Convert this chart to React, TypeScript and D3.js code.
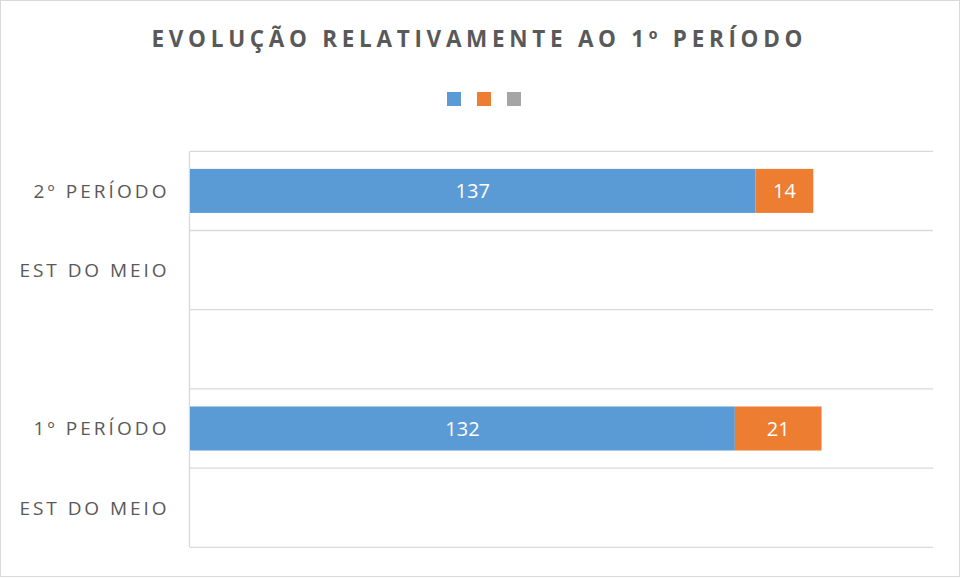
import React from "react";
import * as d3 from "d3";

const title = "EVOLUÇÃO RELATIVAMENTE AO 1º PERÍODO";
const categories = ["2º PERÍODO", "EST DO MEIO", "", "1º PERÍODO", "EST DO MEIO"];
const seriesBlue = [137, null, null, 132, null];
const seriesOrange = [14, null, null, 21, null];
const seriesGray: (number | null)[] = [null, null, null, null, null];
const seriesColors = ["#5B9BD5", "#ED7D31", "#A5A5A5"];
const xMax = 180;

const W = 961;
const H = 578;
const plot = { left: 190, right: 933, top: 151.3, bottom: 547.3 };
const FONT = "'Open Sans', 'DejaVu Sans', sans-serif";
const TEXT = "#595959";
const GRID = "#D9D9D9";

export default function App() {
  const idx = categories.map((_, i) => String(i));
  const y = d3.scaleBand<string>().domain(idx).range([plot.top, plot.bottom]).padding(0);
  const yBar = d3
    .scaleBand<string>()
    .domain(idx)
    .range([plot.top, plot.bottom])
    .paddingInner(0.444)
    .paddingOuter(0.222);
  const x = d3.scaleLinear().domain([0, xMax]).range([plot.left, plot.right]);

  const series = [seriesBlue, seriesOrange, seriesGray];
  const rows = categories.map((c, i) => {
    const r: any = { key: String(i) };
    series.forEach((s, k) => (r["s" + k] = s[i] ?? 0));
    return r;
  });
  const stack = d3.stack<any>().keys(["s0", "s1", "s2"])(rows);

  const gridYs = [...idx.map((k) => y(k) as number), plot.bottom];
  const labelWidths: Record<string, number> = {
    "2º PERÍODO": 133,
    "1º PERÍODO": 133,
    "EST DO MEIO": 147,
  };

  return (
    <svg
      width={W}
      height={H}
      style={{ position: "absolute", left: 0, top: 0, background: "#fff" }}
    >
      <rect x={0.5} y={0.5} width={959} height={576} fill="#fff" stroke={GRID} strokeWidth={1} />
      <text
        x={477}
        y={46.5}
        textAnchor="middle"
        fontFamily={FONT}
        fontWeight="bold"
        fontSize={22.5}
        fill={TEXT}
        textLength={651}
        lengthAdjust="spacing"
      >
        {title}
      </text>
      {seriesColors.map((c, i) => (
        <rect key={c} x={447 + i * 30} y={92} width={14} height={14} fill={c} />
      ))}
      {gridYs.map((gy, i) => (
        <line key={i} x1={plot.left} x2={plot.right} y1={gy} y2={gy} stroke={GRID} strokeWidth={1.3} />
      ))}
      <line x1={plot.left - 0.5} x2={plot.left - 0.5} y1={plot.top} y2={plot.bottom} stroke={GRID} strokeWidth={1.3} />
      {stack.map((layer, k) =>
        layer.map((d, i) => {
          const v = d[1] - d[0];
          if (!v) return null;
          const bx = x(d[0]);
          const bw = x(d[1]) - x(d[0]);
          const by = yBar(String(i)) as number;
          const bh = yBar.bandwidth();
          return (
            <g key={k + "-" + i}>
              <rect x={bx} y={by} width={bw} height={bh} fill={seriesColors[k]} />
              <text
                x={bx + bw / 2}
                y={by + bh / 2}
                dy="0.36em"
                textAnchor="middle"
                fontFamily={FONT}
                fontSize={20}
                fill="#fff"
              >
                {v}
              </text>
            </g>
          );
        })
      )}
      {categories.map((c, i) =>
        c ? (
          <text
            key={i}
            x={166.5}
            y={(y(String(i)) as number) + y.bandwidth() / 2}
            dy="0.36em"
            textAnchor="end"
            fontFamily={FONT}
            fontSize={19}
            fill={TEXT}
            textLength={labelWidths[c]}
            lengthAdjust="spacing"
          >
            {c}
          </text>
        ) : null
      )}
    </svg>
  );
}
